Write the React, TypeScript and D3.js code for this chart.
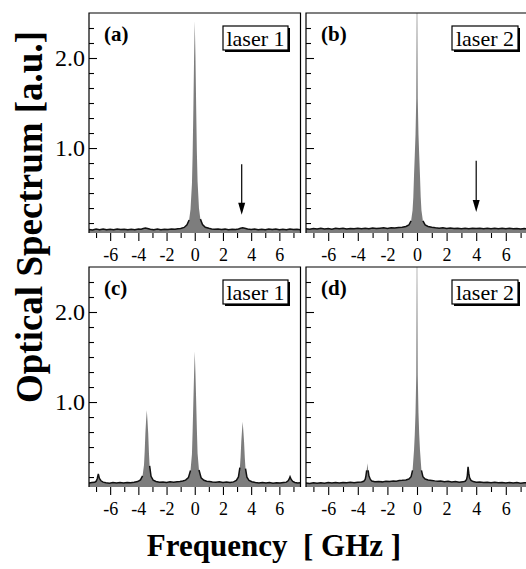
import React, { useEffect, useRef } from "react";
import * as d3 from "d3";

type Pt = [number, number];

// spectra: [frequency (GHz), intensity (a.u.)]
const spectrumA: Pt[] = [
  [-7.5, 0.096], [-7.25, 0.09], [-7, 0.099], [-6.75, 0.093], [-6.5, 0.1], [-6.25, 0.091], [-6, 0.097],
  [-5.75, 0.092], [-5.5, 0.099], [-5.25, 0.094], [-5, 0.098], [-4.75, 0.091], [-4.5, 0.097], [-4.25, 0.093],
  [-4, 0.1], [-3.8, 0.098], [-3.65, 0.106], [-3.5, 0.112], [-3.35, 0.106], [-3.15, 0.097], [-2.9, 0.093],
  [-2.65, 0.099], [-2.4, 0.092], [-2.15, 0.098], [-1.9, 0.094], [-1.65, 0.1], [-1.4, 0.097], [-1.2, 0.103],
  [-1, 0.106], [-0.75, 0.118], [-0.55, 0.148], [-0.4, 0.2], [-0.3, 0.32], [-0.2, 0.6], [-0.15, 0.93],
  [-0.1, 1.42], [-0.05, 1.98], [0, 2.41], [0.05, 2.02], [0.1, 1.47], [0.15, 0.96], [0.2, 0.63], [0.3, 0.33],
  [0.4, 0.21], [0.55, 0.15], [0.75, 0.12], [1, 0.108], [1.2, 0.101], [1.4, 0.098], [1.65, 0.101], [1.9, 0.095],
  [2.15, 0.099], [2.4, 0.093], [2.65, 0.098], [2.9, 0.095], [3.1, 0.1], [3.25, 0.108], [3.4, 0.114],
  [3.55, 0.109], [3.75, 0.1], [4, 0.094], [4.25, 0.099], [4.5, 0.092], [4.75, 0.098], [5, 0.093],
  [5.25, 0.099], [5.5, 0.094], [5.75, 0.1], [6, 0.092], [6.25, 0.097], [6.5, 0.093], [6.75, 0.099],
  [7, 0.094], [7.25, 0.098], [7.5, 0.093],
];

const spectrumB: Pt[] = [
  [-7.5, 0.104], [-7.25, 0.098], [-7, 0.107], [-6.75, 0.1], [-6.5, 0.108], [-6.25, 0.101], [-6, 0.106],
  [-5.75, 0.099], [-5.5, 0.108], [-5.25, 0.102], [-5, 0.109], [-4.75, 0.1], [-4.5, 0.107], [-4.25, 0.103],
  [-4, 0.11], [-3.75, 0.104], [-3.5, 0.109], [-3.25, 0.103], [-3, 0.111], [-2.75, 0.105], [-2.5, 0.11],
  [-2.25, 0.113], [-2, 0.107], [-1.75, 0.114], [-1.5, 0.111], [-1.25, 0.116], [-1, 0.12], [-0.75, 0.128],
  [-0.55, 0.145], [-0.4, 0.19], [-0.3, 0.31], [-0.25, 0.45], [-0.2, 0.7], [-0.15, 0.92], [-0.1, 1.15],
  [-0.05, 1.55], [-0.02, 2.5], [0, 3.5], [0.02, 2.5], [0.05, 1.55], [0.1, 1.15], [0.15, 0.92], [0.2, 0.7],
  [0.25, 0.46], [0.3, 0.31], [0.4, 0.19], [0.55, 0.146], [0.75, 0.129], [1, 0.121], [1.25, 0.115],
  [1.5, 0.11], [1.75, 0.114], [2, 0.107], [2.25, 0.112], [2.5, 0.106], [2.75, 0.11], [3, 0.104],
  [3.25, 0.109], [3.5, 0.103], [3.75, 0.108], [4, 0.105], [4.25, 0.11], [4.5, 0.104], [4.75, 0.109],
  [5, 0.102], [5.25, 0.108], [5.5, 0.104], [5.75, 0.11], [6, 0.103], [6.25, 0.108], [6.5, 0.102],
  [6.75, 0.107], [7, 0.1], [7.25, 0.106], [7.5, 0.102],
];

const spectrumC: Pt[] = [
  [-7.5, 0.1], [-7.3, 0.105], [-7.1, 0.108], [-7, 0.118], [-6.92, 0.145], [-6.84, 0.2], [-6.76, 0.15],
  [-6.65, 0.125], [-6.5, 0.11], [-6.3, 0.104], [-6.05, 0.099], [-5.8, 0.105], [-5.55, 0.1], [-5.3, 0.106],
  [-5.05, 0.101], [-4.8, 0.107], [-4.55, 0.103], [-4.3, 0.108], [-4.05, 0.116], [-3.85, 0.135],
  [-3.7, 0.18], [-3.6, 0.3], [-3.55, 0.45], [-3.5, 0.66], [-3.45, 0.8], [-3.4, 0.91], [-3.35, 0.79],
  [-3.3, 0.65], [-3.25, 0.44], [-3.2, 0.29], [-3.1, 0.175], [-2.95, 0.132], [-2.75, 0.117], [-2.5, 0.108],
  [-2.25, 0.112], [-2, 0.106], [-1.75, 0.113], [-1.5, 0.109], [-1.25, 0.115], [-1.05, 0.118],
  [-0.85, 0.122], [-0.65, 0.132], [-0.45, 0.16], [-0.3, 0.24], [-0.2, 0.42], [-0.15, 0.68], [-0.1, 1.0],
  [-0.05, 1.3], [0, 1.56], [0.05, 1.32], [0.1, 1.02], [0.15, 0.7], [0.2, 0.43], [0.3, 0.245],
  [0.45, 0.158], [0.65, 0.13], [0.85, 0.12], [1.05, 0.117], [1.25, 0.112], [1.5, 0.108], [1.75, 0.113],
  [2, 0.106], [2.25, 0.111], [2.5, 0.105], [2.75, 0.113], [2.95, 0.13], [3.1, 0.168], [3.2, 0.27],
  [3.25, 0.39], [3.3, 0.56], [3.35, 0.68], [3.4, 0.78], [3.45, 0.67], [3.5, 0.55], [3.55, 0.38],
  [3.6, 0.26], [3.7, 0.165], [3.85, 0.13], [4.05, 0.115], [4.3, 0.106], [4.55, 0.101], [4.8, 0.107],
  [5.05, 0.1], [5.3, 0.105], [5.55, 0.099], [5.8, 0.104], [6.05, 0.1], [6.3, 0.106], [6.5, 0.11],
  [6.62, 0.125], [6.7, 0.145], [6.76, 0.17], [6.84, 0.14], [6.95, 0.118], [7.1, 0.106], [7.3, 0.101],
  [7.5, 0.104],
];

const spectrumD: Pt[] = [
  [-7.5, 0.1], [-7.25, 0.096], [-7, 0.103], [-6.75, 0.098], [-6.5, 0.104], [-6.25, 0.099], [-6, 0.105],
  [-5.75, 0.1], [-5.5, 0.106], [-5.25, 0.101], [-5, 0.107], [-4.75, 0.102], [-4.5, 0.108], [-4.25, 0.103],
  [-4, 0.11], [-3.75, 0.112], [-3.6, 0.12], [-3.5, 0.14], [-3.45, 0.18], [-3.4, 0.24], [-3.35, 0.32],
  [-3.3, 0.24], [-3.25, 0.18], [-3.15, 0.14], [-3.05, 0.122], [-2.85, 0.114], [-2.6, 0.118], [-2.35, 0.113],
  [-2.1, 0.12], [-1.85, 0.116], [-1.6, 0.123], [-1.4, 0.12], [-1.2, 0.127], [-1, 0.13], [-0.75, 0.135],
  [-0.55, 0.145], [-0.4, 0.17], [-0.3, 0.24], [-0.2, 0.47], [-0.15, 0.64], [-0.1, 0.88], [-0.05, 1.3],
  [-0.02, 2.4], [0, 3.6], [0.02, 2.4], [0.05, 1.3], [0.1, 0.88], [0.15, 0.64], [0.2, 0.47], [0.3, 0.24],
  [0.4, 0.17], [0.55, 0.145], [0.75, 0.134], [1, 0.129], [1.2, 0.124], [1.4, 0.12], [1.6, 0.122],
  [1.85, 0.115], [2.1, 0.119], [2.35, 0.112], [2.6, 0.116], [2.85, 0.11], [3.1, 0.113], [3.25, 0.12],
  [3.35, 0.14], [3.4, 0.18], [3.45, 0.28], [3.5, 0.21], [3.55, 0.16], [3.65, 0.13], [3.8, 0.116],
  [4, 0.108], [4.25, 0.112], [4.5, 0.105], [4.75, 0.109], [5, 0.103], [5.25, 0.108], [5.5, 0.102],
  [5.75, 0.107], [6, 0.101], [6.25, 0.106], [6.5, 0.1], [6.75, 0.105], [7, 0.099], [7.25, 0.104],
  [7.5, 0.1],
];

const panelTags = ["(a)", "(b)", "(c)", "(d)"];
const laserNames = ["laser 1", "laser 2", "laser 1", "laser 2"];
const spectra = [spectrumA, spectrumB, spectrumC, spectrumD];

// arrows in the top panels: [frequency, start value, tip value]
const arrows: (number[] | null)[] = [[3.33, 0.82, 0.26], [4.0, 0.86, 0.29], null, null];

const freqMinor = [-7, -5, -3, -1, 1, 3, 5, 7];
const freqMajor = [-6, -4, -2, 0, 2, 4, 6];
const yMinor = [0.1667, 0.3333, 0.5, 0.6667, 0.8333, 1.1667, 1.3333, 1.5, 1.6667, 1.8333, 2.1667, 2.3333];
const yMajor = [1.0, 2.0];

const freqDomain = [-7.5, 7.5];
const yDomain = [0.056, 2.5];

const SERIF = "Liberation Serif, Times New Roman, DejaVu Serif, serif";

export default function App() {
  const ref = useRef<SVGSVGElement>(null);

  useEffect(() => {
    const svg = d3.select(ref.current);
    svg.selectAll("*").remove();

    // panel frames (left/right column x range, top/bottom row y range)
    const cols = [[89, 300.5], [306, 528]];
    const rows = [[13, 233], [267, 487]];
    const defs = svg.append("defs");

    spectra.forEach((data, i) => {
      const col = i % 2;
      const row = Math.floor(i / 2);
      const [x0, x1] = cols[col];
      const [y0, y1] = rows[row];
      const x = d3.scaleLinear().domain(freqDomain).range([x0, x1]);
      const y = d3.scaleLinear().domain(yDomain).range([y1, y0]);

      defs.append("clipPath").attr("id", `clip${i}`)
        .append("rect").attr("x", x0).attr("y", y0).attr("width", x1 - x0).attr("height", y1 - y0);

      const g = svg.append("g");

      // grey filled spectrum
      const area = d3.area<Pt>().x(d => x(d[0])).y0(y1).y1(d => y(d[1]));
      g.append("path").datum(data)
        .attr("clip-path", `url(#clip${i})`)
        .attr("d", area)
        .attr("fill", "#7d7d7d");

      // dark noisy baseline trace
      const line = d3.line<Pt>().defined(d => d[1] < 0.3).x(d => x(d[0])).y(d => y(d[1]));
      g.append("path").datum(data)
        .attr("clip-path", `url(#clip${i})`)
        .attr("d", line)
        .attr("fill", "none")
        .attr("stroke", "#111")
        .attr("stroke-width", 1.5);

      // frame (left, top, right)
      g.append("path")
        .attr("d", `M${x0},${y1}V${y0}H${x1}V${y1}`)
        .attr("fill", "none")
        .attr("stroke", "#000")
        .attr("stroke-width", 1.2);

      // y ticks pointing inward
      const yMinorAxis = g.append("g").attr("transform", `translate(${x0},0)`)
        .call(d3.axisRight(y).tickValues(yMinor).tickSize(5).tickSizeOuter(0).tickFormat(() => ""));
      const yMajorAxis = g.append("g").attr("transform", `translate(${x0},0)`)
        .call(d3.axisRight(y).tickValues(yMajor).tickSize(8).tickSizeOuter(0).tickFormat(() => ""));
      [yMinorAxis, yMajorAxis].forEach(a => {
        a.select(".domain").remove();
        a.selectAll("line").attr("stroke", "#000").attr("stroke-width", 1.1);
      });

      if (col === 0) {
        const yLab = g.append("g").attr("transform", `translate(${x0},0)`)
          .call(d3.axisLeft(y).tickValues(yMajor).tickSize(0).tickPadding(4).tickFormat(d3.format(".1f")));
        yLab.select(".domain").remove();
        yLab.attr("font-family", null).attr("font-size", null);
        yLab.selectAll("text")
          .style("font-family", SERIF)
          .style("font-size", "24px")
          .attr("fill", "#000");
      }

      // x ticks below the panel
      const xMinorAxis = g.append("g").attr("transform", `translate(0,${y1})`)
        .call(d3.axisBottom(x).tickValues(freqMinor).tickSize(5).tickSizeOuter(0).tickFormat(() => ""));
      const xMajorAxis = g.append("g").attr("transform", `translate(0,${y1})`)
        .call(d3.axisBottom(x).tickValues(freqMajor).tickSize(8).tickSizeOuter(0).tickPadding(7)
          .tickFormat(d => String(d)));
      [xMinorAxis, xMajorAxis].forEach(a => {
        a.select(".domain").remove();
        a.selectAll("line").attr("stroke", "#000").attr("stroke-width", 1.1);
      });
      xMajorAxis.attr("font-family", null).attr("font-size", null);
      xMajorAxis.selectAll("text")
        .style("font-family", SERIF)
        .style("font-size", "18px")
        .attr("fill", "#000");

      // panel tag
      g.append("text")
        .attr("x", x0 + 15)
        .attr("y", y0 + 28)
        .style("font-family", SERIF)
        .style("font-weight", "bold")
        .style("font-size", "21px")
        .text(panelTags[i]);

      // legend box with drop shadow
      const bw = col === 0 ? 65 : 66;
      const bx = x1 - (col === 0 ? 77.5 : 76);
      const by = y0 + 13;
      g.append("rect").attr("x", bx + 2).attr("y", by + 2).attr("width", bw).attr("height", 24).attr("fill", "#000");
      g.append("rect").attr("x", bx).attr("y", by).attr("width", bw).attr("height", 24)
        .attr("fill", "#fff").attr("stroke", "#000").attr("stroke-width", 1.2);
      g.append("text")
        .attr("x", bx + bw / 2)
        .attr("y", by + 20)
        .attr("text-anchor", "middle")
        .style("font-family", SERIF)
        .style("font-size", "22px")
        .text(laserNames[i]);

      // arrow
      const arr = arrows[i];
      if (arr) {
        const ax = x(arr[0]);
        const yFrom = y(arr[1]);
        const yTip = y(arr[2]);
        g.append("line")
          .attr("x1", ax).attr("x2", ax)
          .attr("y1", yFrom).attr("y2", yTip - 8)
          .attr("stroke", "#000").attr("stroke-width", 1.2);
        g.append("path")
          .attr("d", `M${ax},${yTip}L${ax - 3.5},${yTip - 12}L${ax + 3.5},${yTip - 12}Z`)
          .attr("fill", "#000");
      }
    });

    // axis titles
    svg.append("text")
      .attr("transform", "translate(42,217) rotate(-90)")
      .attr("text-anchor", "middle")
      .style("font-family", SERIF)
      .style("font-weight", "bold")
      .style("font-size", "37px")
      .text("Optical Spectrum [a.u.]");

    svg.append("text")
      .attr("x", 274)
      .attr("y", 556)
      .attr("text-anchor", "middle")
      .style("font-family", SERIF)
      .style("font-weight", "bold")
      .style("font-size", "31px")
      .style("white-space", "pre")
      .text("Frequency  [ GHz ]");
  }, []);

  return (
    <svg
      ref={ref}
      width={526}
      height={569}
      style={{ position: "absolute", left: 0, top: 0, background: "#fff" }}
    />
  );
}
